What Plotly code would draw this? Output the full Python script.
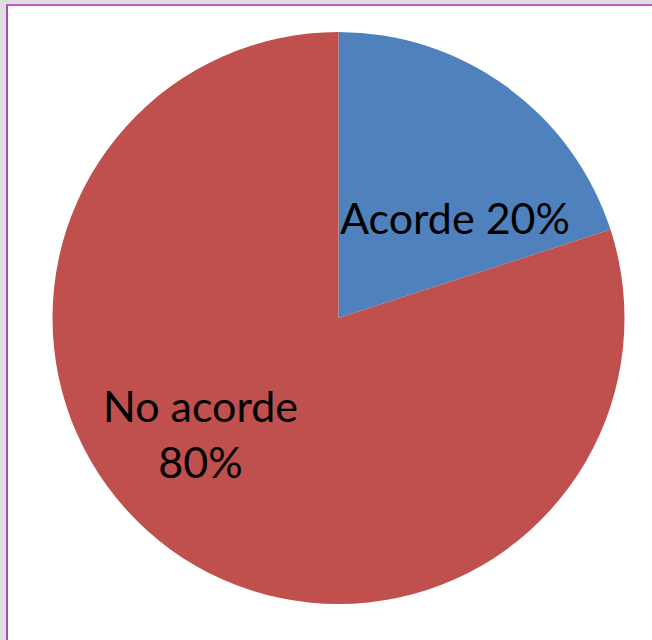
import plotly.graph_objects as go

labels = ["Acorde", "No acorde"]
values = [20, 80]
colors = ["#4F81BD", "#C0504D"]

W, H = 652, 640
total = sum(values)
pcts = [f"{round(v * 100 / total)}%" for v in values]

fig = go.Figure()
fig.add_trace(go.Pie(
    labels=labels,
    values=values,
    sort=False,
    direction="clockwise",
    rotation=0,
    marker=dict(colors=colors, line=dict(width=0)),
    textinfo="none",
    hoverinfo="label+percent",
    showlegend=False,
    domain=dict(x=[52 / W, 625 / W], y=[1 - 604 / H, 1 - 32 / H]),
))

font = dict(family="Lato, Open Sans, sans-serif", size=43, color="#000000")
fig.add_annotation(x=455 / W, y=1 - 217 / H, xref="paper", yref="paper",
                   text=f"{labels[0]} {pcts[0]}", showarrow=False, font=font,
                   xanchor="center", yanchor="middle")
fig.add_annotation(x=200 / W, y=1 - 433 / H, xref="paper", yref="paper",
                   text=f"{labels[1]}<br>{pcts[1]}", showarrow=False, font=font,
                   xanchor="center", yanchor="middle")

# frame: gray strip with purple line at top and left
fig.add_shape(type="rect", xref="paper", yref="paper", x0=0, x1=6 / W, y0=0, y1=1,
              fillcolor="#DEDEDE", line=dict(width=0), layer="above")
fig.add_shape(type="rect", xref="paper", yref="paper", x0=0, x1=1, y0=1 - 4 / H, y1=1,
              fillcolor="#DEDEDE", line=dict(width=0), layer="above")
fig.add_shape(type="rect", xref="paper", yref="paper", x0=6 / W, x1=8 / W, y0=0, y1=1 - 4 / H,
              fillcolor="#A64DB5", line=dict(width=0), layer="above")
fig.add_shape(type="rect", xref="paper", yref="paper", x0=6 / W, x1=1, y0=1 - 6 / H, y1=1 - 4 / H,
              fillcolor="#C257C9", line=dict(width=0), layer="above")

fig.update_layout(
    width=W, height=H,
    margin=dict(l=0, r=0, t=0, b=0),
    paper_bgcolor="white",
    plot_bgcolor="white",
)

fig.write_html("out.html",
               config={"displayModeBar": False},
               post_script="document.body.style.margin='0';document.body.style.overflow='hidden';")
